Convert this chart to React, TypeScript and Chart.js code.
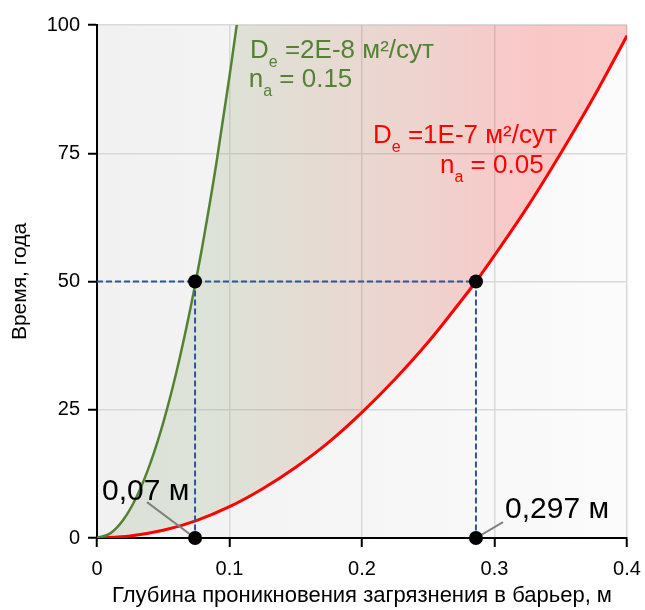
import { useEffect, useRef } from 'react';
import { Chart, registerables } from 'chart.js';

Chart.register(...registerables);

// ---- data ----
const greenDepth = [0, 0.01, 0.02, 0.03, 0.04, 0.05, 0.06, 0.07, 0.074, 0.08, 0.09, 0.1, 0.106];
const greenTime = [0, 0.9, 3.6, 8.1, 14.4, 22.5, 32.4, 44.1, 49.3, 57.6, 72.9, 90, 101];

const redDepth = [0, 0.025, 0.05, 0.075, 0.1, 0.125, 0.15, 0.175, 0.2, 0.225, 0.25, 0.275, 0.286, 0.3, 0.325, 0.35, 0.375, 0.4];
const redTime = [0, 0.4, 1.5, 3.4, 6.1, 9.6, 13.8, 18.7, 24.5, 31, 38.2, 46.3, 50, 55.1, 64.6, 75, 86, 97.9];

const markDepths = [0.074, 0.286];
const markTime = 50;

const xTickValues = [0, 0.1, 0.2, 0.3, 0.4];
const xTickLabels = ['0', '0.1', '0.2', '0.3', '0.4'];
const yTickValues = [0, 25, 50, 75, 100];
const yTickLabels = ['0', '25', '50', '75', '100'];

const xTitle = 'Глубина проникновения загрязнения в барьер, м';
const yTitle = 'Время, года';

const greenNote = { main: 'D', sub: 'e', rest: ' =2E-8 м²/сут', main2: 'n', sub2: 'a', rest2: ' = 0.15' };
const redNote = { main: 'D', sub: 'e', rest: ' =1E-7 м²/сут', main2: 'n', sub2: 'a', rest2: ' = 0.05' };
const markLabels = ['0,07 м', '0,297 м'];

const FONT = "'Liberation Sans', Arial, sans-serif";
const GREEN = '#548235';
const RED = '#ff0000';
const DASH = '#2f5597';

const pts = (xs: number[], ys: number[]) => xs.map((x, i) => ({ x, y: ys[i] }));

function drawSubText(ctx: CanvasRenderingContext2D, x: number, y: number, main: string, sub: string, rest: string, color: string, size: number) {
  ctx.fillStyle = color;
  ctx.textBaseline = 'alphabetic';
  ctx.textAlign = 'left';
  ctx.font = `${size}px ${FONT}`;
  ctx.fillText(main, x, y);
  let cx = x + ctx.measureText(main).width;
  ctx.font = `${Math.round(size * 0.62)}px ${FONT}`;
  ctx.fillText(sub, cx, y + size * 0.36);
  cx += ctx.measureText(sub).width;
  ctx.font = `${size}px ${FONT}`;
  ctx.fillText(rest, cx, y);
}

const bgPlugin = {
  id: 'bgPlugin',
  beforeDraw(chart: any) {
    const { ctx, chartArea } = chart;
    if (!chartArea) return;
    const g = ctx.createLinearGradient(chartArea.left, 0, chartArea.right, 0);
    g.addColorStop(0, '#f1f1f1');
    g.addColorStop(1, '#fbfbfb');
    ctx.save();
    ctx.fillStyle = g;
    ctx.fillRect(chartArea.left, chartArea.top, chartArea.right - chartArea.left, chartArea.bottom - chartArea.top);
    ctx.restore();
  },
};

const notePlugin = {
  id: 'notePlugin',
  afterDraw(chart: any) {
    const { ctx, scales } = chart;
    const x = scales.x;
    const y = scales.y;
    ctx.save();
    drawSubText(ctx, x.getPixelForValue(0.1155), y.getPixelForValue(93.6), greenNote.main, greenNote.sub, greenNote.rest, GREEN, 26);
    drawSubText(ctx, x.getPixelForValue(0.1145), y.getPixelForValue(87.9), greenNote.main2, greenNote.sub2, greenNote.rest2, GREEN, 26);
    drawSubText(ctx, x.getPixelForValue(0.2083), y.getPixelForValue(77.0), redNote.main, redNote.sub, redNote.rest, RED, 26);
    drawSubText(ctx, x.getPixelForValue(0.2589), y.getPixelForValue(71.2), redNote.main2, redNote.sub2, redNote.rest2, RED, 26);
    ctx.fillStyle = '#000';
    ctx.font = `30px ${FONT}`;
    ctx.textAlign = 'left';
    ctx.textBaseline = 'alphabetic';
    ctx.fillText(markLabels[0], x.getPixelForValue(0.0038), y.getPixelForValue(7.4));
    ctx.fillText(markLabels[1], x.getPixelForValue(0.308), y.getPixelForValue(3.9));
    ctx.restore();
  },
};

export default function App() {
  const ref = useRef<HTMLCanvasElement | null>(null);

  useEffect(() => {
    if (!ref.current) return;
    const shape = [
      ...pts(greenDepth.slice(0, -1), greenTime.slice(0, -1)),
      { x: 0.1057, y: 100 },
      { x: 0.4, y: 100 },
      ...pts(redDepth, redTime).reverse(),
    ];
    const chart = new Chart(ref.current, {
      type: 'scatter',
      data: {
        datasets: [
          {
            label: 'marks',
            data: [
              { x: markDepths[0], y: markTime },
              { x: markDepths[1], y: markTime },
              { x: markDepths[0], y: 0 },
              { x: markDepths[1], y: 0 },
            ],
            pointRadius: 7,
            pointBackgroundColor: '#000',
            pointBorderWidth: 0,
            showLine: false,
            clip: false,
          } as any,
          {
            label: 'leader1',
            data: [{ x: 0.0377, y: 7.0 }, { x: markDepths[0], y: 0 }],
            showLine: true,
            borderColor: '#808080',
            borderWidth: 2,
            pointRadius: 0,
          },
          {
            label: 'leader2',
            data: [{ x: 0.3064, y: 3.1 }, { x: markDepths[1], y: 0 }],
            showLine: true,
            borderColor: '#808080',
            borderWidth: 2,
            pointRadius: 0,
          },
          {
            label: 'h',
            data: [{ x: 0, y: markTime }, { x: markDepths[1], y: markTime }],
            showLine: true,
            borderColor: DASH,
            borderWidth: 2,
            borderDash: [6, 3],
            pointRadius: 0,
          },
          {
            label: 'v1',
            data: [{ x: markDepths[0], y: markTime }, { x: markDepths[0], y: 0 }],
            showLine: true,
            borderColor: DASH,
            borderWidth: 2,
            borderDash: [6, 3],
            pointRadius: 0,
          },
          {
            label: 'v2',
            data: [{ x: markDepths[1], y: markTime }, { x: markDepths[1], y: 0 }],
            showLine: true,
            borderColor: DASH,
            borderWidth: 2,
            borderDash: [6, 3],
            pointRadius: 0,
          },
          {
            label: 'green',
            data: pts(greenDepth, greenTime),
            showLine: true,
            borderColor: GREEN,
            borderWidth: 2.5,
            pointRadius: 0,
            cubicInterpolationMode: 'monotone',
          },
          {
            label: 'red',
            data: pts(redDepth, redTime),
            showLine: true,
            borderColor: RED,
            borderWidth: 3,
            pointRadius: 0,
            cubicInterpolationMode: 'monotone',
          },
          {
            label: 'area',
            data: shape,
            showLine: true,
            borderWidth: 0,
            borderColor: 'rgba(0,0,0,0)',
            pointRadius: 0,
            fill: 'shape',
            backgroundColor: (c: any) => {
              const { chart: ch } = c;
              const { ctx, chartArea, scales } = ch;
              if (!chartArea || !scales.x) return 'rgba(0,0,0,0)';
              const x0 = scales.x.getPixelForValue(0.08);
              const x1 = scales.x.getPixelForValue(0.33);
              const g = ctx.createLinearGradient(x0, 0, x1, 0);
              g.addColorStop(0, 'rgba(84,130,53,0.14)');
              g.addColorStop(1, 'rgba(255,0,0,0.2)');
              return g;
            },
          } as any,
        ],
      },
      options: {
        animation: false,
        responsive: false,
        events: [],
        layout: { padding: { top: 25, right: 18, left: 0, bottom: 0 } },
        plugins: { legend: { display: false }, tooltip: { enabled: false } },
        scales: {
          x: {
            type: 'linear',
            min: 0,
            max: 0.4,
            afterFit: (s: any) => { s.height = 72; s.paddingLeft = 0; s.paddingRight = 0; },
            afterBuildTicks: (s: any) => { s.ticks = xTickValues.map((v) => ({ value: v })); },
            ticks: {
              callback: (_v: any, i: number) => xTickLabels[i],
              color: '#000',
              font: { family: FONT, size: 20 },
              padding: 10,
              maxRotation: 0,
              autoSkip: false,
            },
            grid: { color: '#d9d9d9', lineWidth: 1.5, tickColor: '#000', tickLength: 9, tickWidth: 2 },
            border: { color: '#000', width: 2 },
            title: { display: true, text: xTitle, color: '#000', font: { family: FONT, size: 22 }, padding: { top: 4, bottom: 1 } },
          },
          y: {
            type: 'linear',
            min: 0,
            max: 100,
            afterFit: (s: any) => { s.width = 97; s.paddingTop = 0; s.paddingBottom = 0; },
            afterBuildTicks: (s: any) => { s.ticks = yTickValues.map((v) => ({ value: v })); },
            ticks: {
              callback: (_v: any, i: number) => yTickLabels[i],
              color: '#000',
              font: { family: FONT, size: 20 },
              padding: 8,
              autoSkip: false,
            },
            grid: { color: '#d9d9d9', lineWidth: 1.5, tickColor: '#000', tickLength: 9, tickWidth: 2 },
            border: { color: '#000', width: 2 },
            title: { display: true, text: yTitle, color: '#000', font: { family: FONT, size: 21 }, padding: { top: 8, bottom: 4 } },
          },
        },
      },
      plugins: [bgPlugin, notePlugin],
    } as any);
    return () => chart.destroy();
  }, []);

  return (
    <div style={{ position: 'fixed', left: 0, top: 0, width: 645, height: 610, background: '#fff' }}>
      <canvas ref={ref} width={645} height={610} style={{ display: 'block' }} />
    </div>
  );
}
